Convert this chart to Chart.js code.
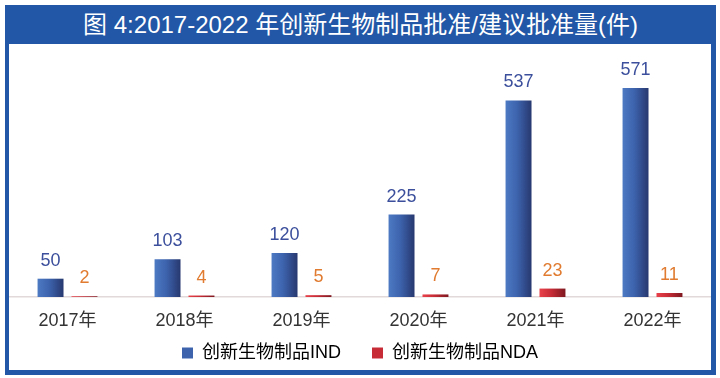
<!DOCTYPE html>
<html><head><meta charset="utf-8">
<script src="https://cdn.jsdelivr.net/npm/chart.js@4/dist/chart.umd.min.js"></script>
<style>
html,body{margin:0;padding:0;background:#fff;width:720px;height:378px;overflow:hidden}
#frame{position:absolute;left:5px;top:5px;width:711px;height:370px;background:#2157a6}
#title{position:absolute;left:0;top:0;width:711px;height:39px;line-height:40px;text-align:center;color:#fff;font-family:"Liberation Sans Narrow","Liberation Sans","Noto Sans CJK SC",sans-serif;font-size:24px;white-space:nowrap}
#inner{position:absolute;left:4px;top:39px;width:702px;height:326px;background:#fff}
canvas{display:block}
</style></head>
<body>
<div id="frame"><div id="title">图 4:2017-2022 年创新生物制品批准/建议批准量(件)</div>
<div id="inner"><canvas id="c" width="702" height="328"></canvas></div></div>
<script>
const categories = ['2017年','2018年','2019年','2020年','2021年','2022年'];
const indValues = [50, 103, 120, 225, 537, 571];
const ndaValues = [2, 4, 5, 7, 23, 11];
const seriesNames = ['创新生物制品IND', '创新生物制品NDA'];

const CAT_PCT = 0.58, BAR_PCT = 0.765;
const gradStops = [
  ['#4d7ac3', '#3d63ad', '#27386f'],
  ['#e8424b', '#c72c36', '#7e1820']
];
const labelColors = ['#3b4f9c', '#e07b30'];
const FONT = '"Liberation Sans", "Noto Sans CJK SC", sans-serif';

function barFill(c) {
  const ds = c.datasetIndex;
  const stops = gradStops[ds];
  const chart = c.chart;
  const xs = chart.scales && chart.scales.x;
  if (c.type !== 'data' || !xs || !chart.chartArea) return stops[1];
  const cx = xs.getPixelForValue(c.dataIndex);
  const catW = xs.width / categories.length;
  const slot = catW * CAT_PCT / 2;
  const center = cx + (ds - 0.5) * slot;
  const half = slot * BAR_PCT / 2;
  const g = chart.ctx.createLinearGradient(center - half, 0, center + half, 0);
  g.addColorStop(0, stops[0]);
  g.addColorStop(0.45, stops[1]);
  g.addColorStop(1, stops[2]);
  return g;
}

const valueLabels = {
  id: 'valueLabels',
  afterDatasetsDraw(chart) {
    const ctx = chart.ctx;
    ctx.save();
    ctx.font = '18px "Liberation Sans", Arial, sans-serif';
    ctx.textAlign = 'center';
    ctx.textBaseline = 'middle';
    chart.data.datasets.forEach((d, i) => {
      const meta = chart.getDatasetMeta(i);
      ctx.fillStyle = labelColors[i];
      meta.data.forEach((el, j) => {
        ctx.fillText(String(d.data[j]), el.x, el.y - 18);
      });
    });
    ctx.restore();
  }
};

new Chart(document.getElementById('c'), {
  type: 'bar',
  data: {
    labels: categories,
    datasets: [
      { label: seriesNames[0], data: indValues, backgroundColor: barFill, borderWidth: 0,
        categoryPercentage: CAT_PCT, barPercentage: BAR_PCT },
      { label: seriesNames[1], data: ndaValues, backgroundColor: barFill, borderWidth: 0,
        categoryPercentage: CAT_PCT, barPercentage: BAR_PCT }
    ]
  },
  options: {
    responsive: false,
    animation: false,
    layout: { padding: { top: 15, left: 0, right: 0, bottom: 0 } },
    plugins: {
      title: { display: false },
      tooltip: { enabled: false },
      legend: {
        position: 'bottom',
        labels: {
          boxWidth: 11, boxHeight: 11, padding: 3,
          color: '#444',
          font: { size: 18, family: FONT, lineHeight: 1 },
          generateLabels(chart) {
            return chart.data.datasets.map((d, i) => ({
              text: i === 0 ? d.label + '\u3000  ' : d.label,
              fillStyle: gradStops[i][1], strokeStyle: gradStops[i][1],
              lineWidth: 0, datasetIndex: i, hidden: false
            }));
          }
        }
      }
    },
    scales: {
      x: {
        grid: { display: false },
        border: { display: true, color: '#e2d9da', width: 1.5 },
        ticks: { color: '#333', padding: 0, font: { size: 18, family: FONT, lineHeight: '32px' } },
        afterFit(scale) { scale.height = 44; }
      },
      y: { display: false, min: 0, max: 650 }
    }
  },
  plugins: [valueLabels]
});
</script>
</body></html>
